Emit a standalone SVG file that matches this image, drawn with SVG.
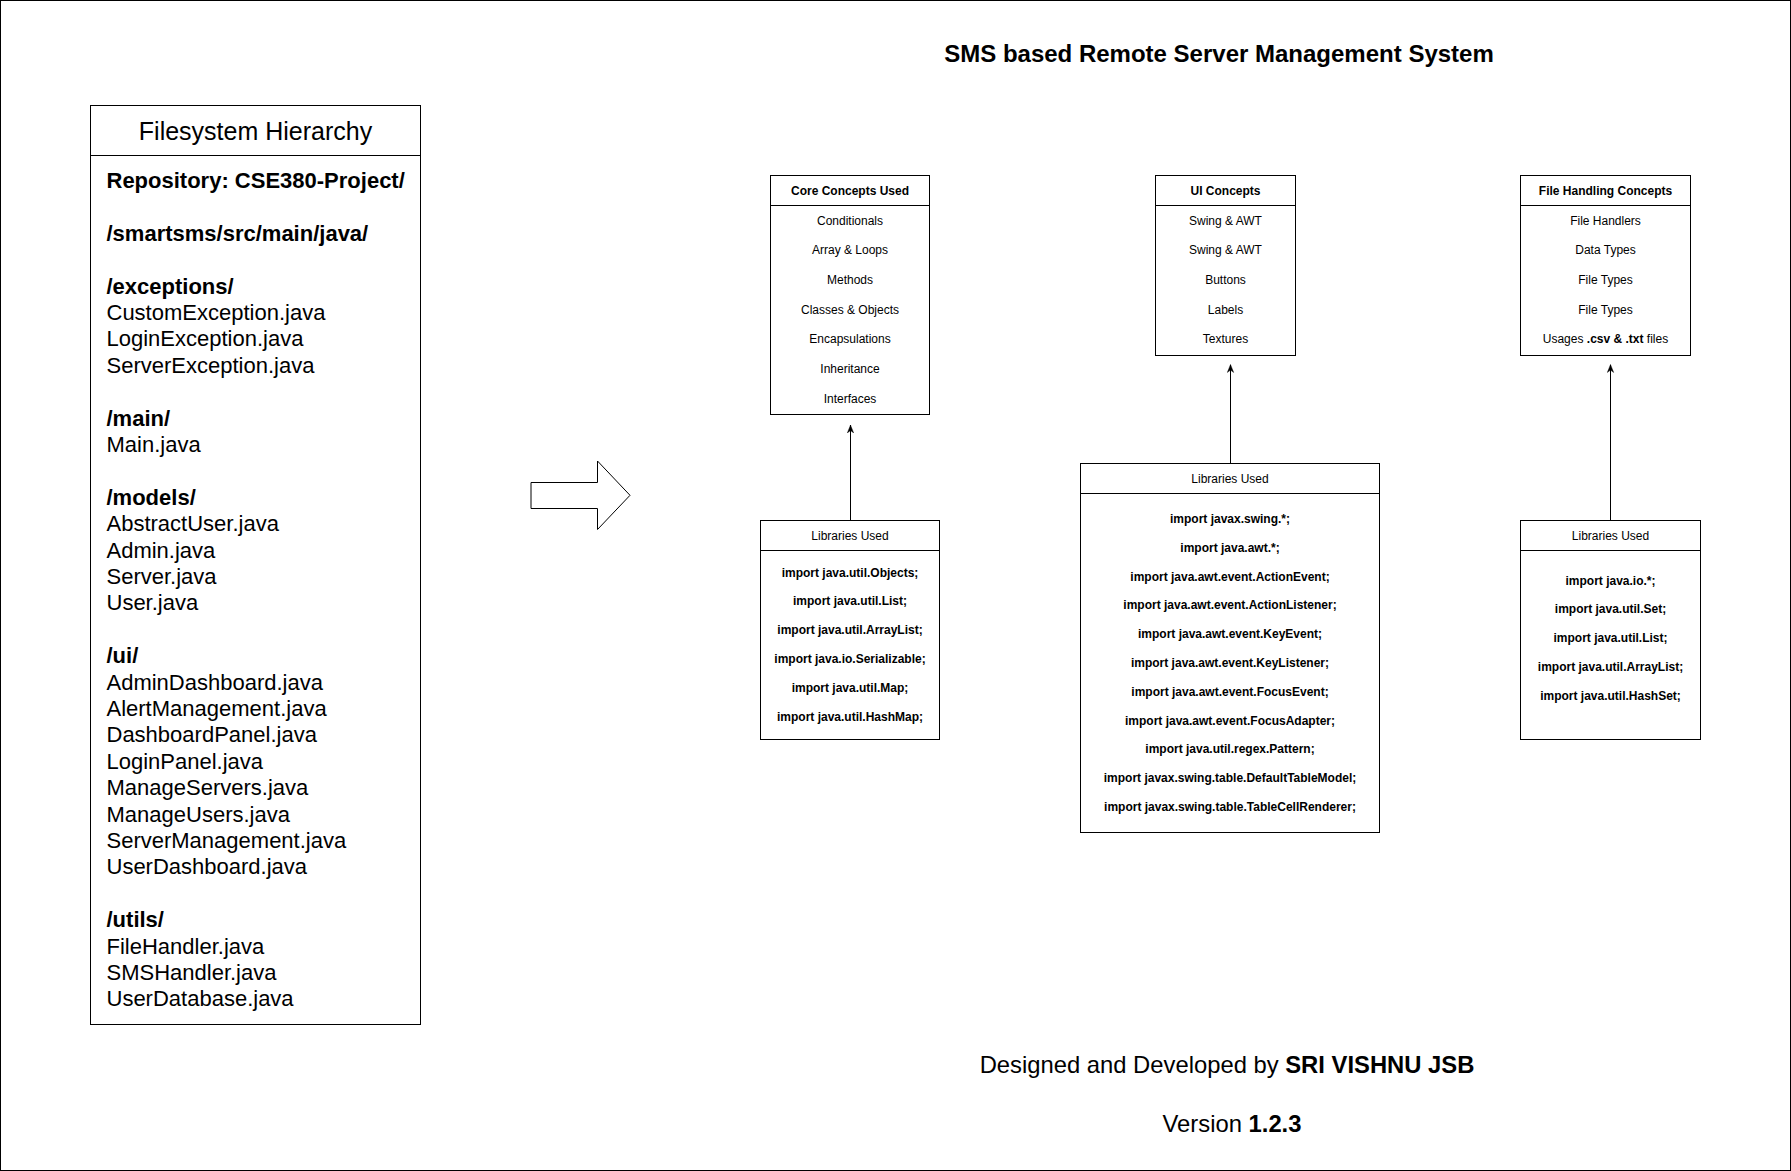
<svg xmlns="http://www.w3.org/2000/svg" width="1791" height="1171" viewBox="0 0 1791 1171">
<defs>
<style>
text{font-family:"Liberation Sans",Arial,Helvetica,sans-serif;fill:#000}
.box{fill:#fff;stroke:#000;stroke-width:1}
.sep{stroke:#000;stroke-width:1}
.hb{font-size:12px;font-weight:bold;text-anchor:middle}
.hr{font-size:12px;text-anchor:middle}
.it{font-size:12px;text-anchor:middle}
.lib{font-size:12px;font-weight:bold;text-anchor:middle}
.fs{font-size:22px}
.fsb{font-size:22px;font-weight:bold}
.conn{fill:none;stroke:#000;stroke-width:1}
</style>
<marker id="arr" viewBox="0 0 10 10" refX="10" refY="5" markerWidth="8" markerHeight="8" markerUnits="userSpaceOnUse" orient="auto">
<path d="M0,1 L10,5 L0,9 L3,5 Z" fill="#000" stroke="#000" stroke-width="0.5"/>
</marker>
</defs>
<rect x="0.5" y="0.5" width="1790" height="1170" fill="#fff" stroke="#000" stroke-width="1"/>

<text x="1219" y="62" style="font-size:24px;font-weight:bold;text-anchor:middle">SMS based Remote Server Management System</text>

<g id="filesystem">
<rect class="box" x="90.5" y="105.5" width="330" height="919"/>
<line class="sep" x1="90.5" y1="155.5" x2="420.5" y2="155.5"/>
<text x="255.5" y="140" style="font-size:25px;text-anchor:middle">Filesystem Hierarchy</text>
<text class="fsb" x="106.5" y="188">Repository: CSE380-Project/</text>
<text class="fsb" x="106.5" y="240.8">/smartsms/src/main/java/</text>
<text class="fsb" x="106.5" y="293.6">/exceptions/</text>
<text class="fs" x="106.5" y="320">CustomException.java</text>
<text class="fs" x="106.5" y="346.4">LoginException.java</text>
<text class="fs" x="106.5" y="372.8">ServerException.java</text>
<text class="fsb" x="106.5" y="425.6">/main/</text>
<text class="fs" x="106.5" y="452">Main.java</text>
<text class="fsb" x="106.5" y="504.8">/models/</text>
<text class="fs" x="106.5" y="531.2">AbstractUser.java</text>
<text class="fs" x="106.5" y="557.6">Admin.java</text>
<text class="fs" x="106.5" y="584">Server.java</text>
<text class="fs" x="106.5" y="610.4">User.java</text>
<text class="fsb" x="106.5" y="663.2">/ui/</text>
<text class="fs" x="106.5" y="689.6">AdminDashboard.java</text>
<text class="fs" x="106.5" y="716">AlertManagement.java</text>
<text class="fs" x="106.5" y="742.4">DashboardPanel.java</text>
<text class="fs" x="106.5" y="768.8">LoginPanel.java</text>
<text class="fs" x="106.5" y="795.2">ManageServers.java</text>
<text class="fs" x="106.5" y="821.6">ManageUsers.java</text>
<text class="fs" x="106.5" y="848">ServerManagement.java</text>
<text class="fs" x="106.5" y="874.4">UserDashboard.java</text>
<text class="fsb" x="106.5" y="927.2">/utils/</text>
<text class="fs" x="106.5" y="953.6">FileHandler.java</text>
<text class="fs" x="106.5" y="980">SMSHandler.java</text>
<text class="fs" x="106.5" y="1006.4">UserDatabase.java</text>
</g>

<g id="big-arrow">
<polygon points="531,482.5 597.5,482.5 597.5,461 630,495.3 597.5,529.5 597.5,508.5 531,508.5" fill="#fff" stroke="#000" stroke-width="1"/>
</g>

<g id="core-concepts">
<rect class="box" x="770.5" y="175.5" width="159" height="239"/>
<line class="sep" x1="770.5" y1="205.5" x2="929.5" y2="205.5"/>
<text class="hb" x="850" y="194.5">Core Concepts Used</text>
<text class="it" x="850" y="224.5">Conditionals</text>
<text class="it" x="850" y="254.2">Array &amp; Loops</text>
<text class="it" x="850" y="283.9">Methods</text>
<text class="it" x="850" y="313.6">Classes &amp; Objects</text>
<text class="it" x="850" y="343.3">Encapsulations</text>
<text class="it" x="850" y="373">Inheritance</text>
<text class="it" x="850" y="402.7">Interfaces</text>
</g>

<g id="core-libraries">
<rect class="box" x="760.5" y="520.5" width="179" height="219"/>
<line class="sep" x1="760.5" y1="550.5" x2="939.5" y2="550.5"/>
<text class="hr" x="850" y="540">Libraries Used</text>
<text class="lib" x="850" y="576.5">import java.util.Objects;</text>
<text class="lib" x="850" y="605.3">import java.util.List;</text>
<text class="lib" x="850" y="634.1">import java.util.ArrayList;</text>
<text class="lib" x="850" y="662.9">import java.io.Serializable;</text>
<text class="lib" x="850" y="691.7">import java.util.Map;</text>
<text class="lib" x="850" y="720.5">import java.util.HashMap;</text>
</g>

<g id="ui-concepts">
<rect class="box" x="1155.5" y="175.5" width="140" height="180"/>
<line class="sep" x1="1155.5" y1="205.5" x2="1295.5" y2="205.5"/>
<text class="hb" x="1225.5" y="194.5">UI Concepts</text>
<text class="it" x="1225.5" y="224.5">Swing &amp; AWT</text>
<text class="it" x="1225.5" y="254.2">Swing &amp; AWT</text>
<text class="it" x="1225.5" y="283.9">Buttons</text>
<text class="it" x="1225.5" y="313.6">Labels</text>
<text class="it" x="1225.5" y="343.3">Textures</text>
</g>

<g id="ui-libraries">
<rect class="box" x="1080.5" y="463.5" width="299" height="369"/>
<line class="sep" x1="1080.5" y1="493.5" x2="1379.5" y2="493.5"/>
<text class="hr" x="1230" y="483">Libraries Used</text>
<text class="lib" x="1230" y="522.9">import javax.swing.*;</text>
<text class="lib" x="1230" y="551.7">import java.awt.*;</text>
<text class="lib" x="1230" y="580.5">import java.awt.event.ActionEvent;</text>
<text class="lib" x="1230" y="609.3">import java.awt.event.ActionListener;</text>
<text class="lib" x="1230" y="638.1">import java.awt.event.KeyEvent;</text>
<text class="lib" x="1230" y="666.9">import java.awt.event.KeyListener;</text>
<text class="lib" x="1230" y="695.7">import java.awt.event.FocusEvent;</text>
<text class="lib" x="1230" y="724.5">import java.awt.event.FocusAdapter;</text>
<text class="lib" x="1230" y="753.3">import java.util.regex.Pattern;</text>
<text class="lib" x="1230" y="782.1">import javax.swing.table.DefaultTableModel;</text>
<text class="lib" x="1230" y="810.9">import javax.swing.table.TableCellRenderer;</text>
</g>

<g id="file-handling-concepts">
<rect class="box" x="1520.5" y="175.5" width="170" height="180"/>
<line class="sep" x1="1520.5" y1="205.5" x2="1690.5" y2="205.5"/>
<text class="hb" x="1605.5" y="194.5">File Handling Concepts</text>
<text class="it" x="1605.5" y="224.5">File Handlers</text>
<text class="it" x="1605.5" y="254.2">Data Types</text>
<text class="it" x="1605.5" y="283.9">File Types</text>
<text class="it" x="1605.5" y="313.6">File Types</text>
<text class="it" x="1605.5" y="343.3">Usages <tspan font-weight="bold">.csv &amp; .txt</tspan> files</text>
</g>

<g id="file-handling-libraries">
<rect class="box" x="1520.5" y="520.5" width="180" height="219"/>
<line class="sep" x1="1520.5" y1="550.5" x2="1700.5" y2="550.5"/>
<text class="hr" x="1610.5" y="540">Libraries Used</text>
<text class="lib" x="1610.5" y="584.5">import java.io.*;</text>
<text class="lib" x="1610.5" y="613.3">import java.util.Set;</text>
<text class="lib" x="1610.5" y="642.1">import java.util.List;</text>
<text class="lib" x="1610.5" y="670.9">import java.util.ArrayList;</text>
<text class="lib" x="1610.5" y="699.7">import java.util.HashSet;</text>
</g>

<g id="connectors">
<line class="conn" x1="850.5" y1="520.5" x2="850.5" y2="425" marker-end="url(#arr)"/>
<line class="conn" x1="1230.5" y1="463.5" x2="1230.5" y2="364.5" marker-end="url(#arr)"/>
<line class="conn" x1="1610.5" y1="520.5" x2="1610.5" y2="364.5" marker-end="url(#arr)"/>
</g>

<g id="footer">
<text x="1227" y="1073" style="font-size:23.8px;text-anchor:middle">Designed and Developed by <tspan font-weight="bold">SRI VISHNU JSB</tspan></text>
<text x="1232" y="1132" style="font-size:23.8px;text-anchor:middle">Version <tspan font-weight="bold">1.2.3</tspan></text>
</g>
</svg>
